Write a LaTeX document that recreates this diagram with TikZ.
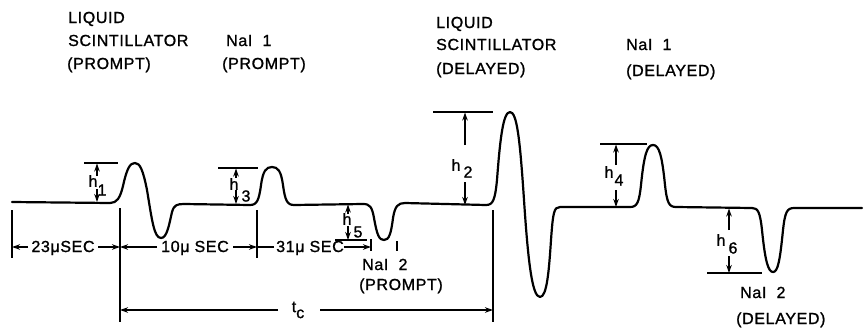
\documentclass[tikz,border=0pt]{standalone}
\usepackage{fontspec}
\setmainfont{Liberation Sans}
\newfontfamily\lbfont[LetterSpace=4,FakeBold=1.2]{Liberation Sans}
\usetikzlibrary{arrows.meta}
\begin{document}
\begin{tikzpicture}[x=1pt,y=-1pt,
  lbl/.style={font=\lbfont\fontsize{16}{19}\selectfont, inner sep=0pt, anchor=base west},
  dimtxt/.style={font=\lbfont\fontsize{16}{19}\selectfont, inner sep=0pt, anchor=base},
  hlab/.style={font=\lbfont\fontsize{16}{19}\selectfont, inner sep=0pt},
  pulse/.style={line width=2.2pt, line join=round, line cap=round},
  dim/.style={line width=1.2pt},
  tip/.style={-{Stealth[length=8pt,width=5.5pt]}},
]
\useasboundingbox (0,0) rectangle (867,327);

% ---- top labels
\node[lbl] (ls1a) at (68,23) {LIQUID};
\node[lbl] (ls1b) at (68,46) {SCINTILLATOR};
\node[lbl] (ls1c) at (67,69) {(PROMPT)};
\node[lbl] (na1a) at (226,46) {NaI\ \ 1};
\node[lbl] (na1b) at (222,69) {(PROMPT)};
\node[lbl] (ls2a) at (436,28) {LIQUID};
\node[lbl] (ls2b) at (436,50) {SCINTILLATOR};
\node[lbl] (ls2c) at (436,74) {(DELAYED)};
\node[lbl] (na2a) at (626,50) {NaI\ \ 1};
\node[lbl] (na2b) at (626,76) {(DELAYED)};
% ---- bottom labels
\node[lbl] (n2pa) at (362,270) {NaI\ \ 2};
\node[lbl] (n2pb) at (359,290) {(PROMPT)};
\node[lbl] (n2da) at (740,298) {NaI\ \ 2};
\node[lbl] (n2db) at (736,324) {(DELAYED)};

% ---- pulse train
\draw[pulse] (12,202) -- (110,203)
 .. controls (117,203) and (120,198) .. (123,186)
 .. controls (127,168) and (130,163) .. (135,163)
 .. controls (140,163) and (143,170) .. (147,190)
 .. controls (152,220) and (154,238) .. (161,238)
 .. controls (167,238) and (169,225) .. (172,212)
 .. controls (174,205) and (177,204) .. (184,204)
 -- (250,205)
 .. controls (257,205) and (259,200) .. (261,185)
 .. controls (263,171) and (266,167) .. (272,167)
 .. controls (278,167) and (281,171) .. (283,185)
 .. controls (285,200) and (287,205) .. (294,205)
 -- (363,204)
 .. controls (370,204) and (372,207) .. (374,218)
 .. controls (377,235) and (379,240) .. (384,240)
 .. controls (389,240) and (391,234) .. (393,218)
 .. controls (395,206) and (398,203) .. (405,203)
 -- (486,205)
 .. controls (493,205) and (495,200) .. (497,180)
 .. controls (500,140) and (503,112) .. (510,112)
 .. controls (517,112) and (520,140) .. (524,200)
 .. controls (528,260) and (532,297) .. (540,297)
 .. controls (547,297) and (549,270) .. (551,240)
 .. controls (553,212) and (554,207) .. (560,207)
 -- (630,207)
 .. controls (637,207) and (639,203) .. (641,185)
 .. controls (644,155) and (647,145) .. (653,145)
 .. controls (659,145) and (662,155) .. (665,185)
 .. controls (667,203) and (669,207) .. (676,207)
 -- (752,208)
 .. controls (758,208) and (760,212) .. (762,230)
 .. controls (765,260) and (768,272) .. (773,272)
 .. controls (778,272) and (780,260) .. (783,230)
 .. controls (785,212) and (787,208) .. (794,208)
 -- (862,208);

% ---- extension lines
\coordinate (e0t) at (12,210);  \coordinate (e0b) at (12,258);
\coordinate (e1t) at (120,208); \coordinate (e1b) at (120,322);
\coordinate (e2t) at (257,210); \coordinate (e2b) at (257,258);
\coordinate (e3t) at (371,239); \coordinate (e3b) at (371,251);
\coordinate (e4t) at (493,210); \coordinate (e4b) at (493,322);
\coordinate (k1t) at (397,241); \coordinate (k1b) at (397,251);
\foreach \a/\b in {e0t/e0b,e1t/e1b,e2t/e2b,e3t/e3b,e4t/e4b,k1t/k1b}
  \draw[dim] (\a) -- (\b);

% ---- time intervals
\node[dimtxt] (d23) at (63,252) {23μSEC};
\node[dimtxt] (d10) at (195,252) {10μ SEC};
\node[dimtxt] (d31) at (310,252) {31μ SEC};
\coordinate (a23l) at (28,247);  \coordinate (a23r) at (98,247);
\coordinate (a10l) at (157,247); \coordinate (a10r) at (233,247);
\coordinate (a31l) at (274,247); \coordinate (a31r) at (344,247);
\draw[dim,tip] (a23l) -- (e0t |- a23l);
\draw[dim,tip] (a23r) -- (e1t |- a23r);
\draw[dim,tip] (a10l) -- (e1t |- a10l);
\draw[dim,tip] (a10r) -- (e2t |- a10r);
\draw[dim] (a31l) -- (e2t |- a31l);
\draw[dim,tip] (a31r) -- (e3t |- a31r);

% ---- t_c
\node[hlab] (tc) at (298,310) {t\raisebox{-6pt}{c}};
\coordinate (tcl) at (278,310); \coordinate (tcr) at (320,310);
\draw[dim,tip] (tcl) -- (e1t |- tcl);
\draw[dim,tip] (tcr) -- (e4t |- tcr);

% ---- heights
% h1
\coordinate (h1a) at (84,163); \coordinate (h1b) at (118,163);
\draw[dim] (h1a) -- (h1b);
\draw[dim,tip] (97,176) -- (97,163.5);
\draw[dim,tip] (97,189) -- (97,202);
\node[hlab] (h1h) at (93,181) {h};
\node[hlab] (h1n) at (102,190) {1};
% h3
\draw[dim] (218,168) -- (258,168);
\draw[dim,tip] (236,178) -- (236,168.5);
\draw[dim,tip] (236,190) -- (236,204);
\node[hlab] (h3h) at (234,184) {h};
\node[hlab] (h3n) at (246,196) {3};
% h5
\draw[dim] (335,240) -- (367,240);
\draw[dim,tip] (348,214) -- (348,204.5);
\draw[dim,tip] (348,226) -- (348,240);
\node[hlab] (h5h) at (347,219) {h};
\node[hlab] (h5n) at (358,232) {5};
% h2
\draw[dim] (433,112) -- (493,112);
\draw[dim,tip] (465,145) -- (465,112.5);
\draw[dim,tip] (465,182) -- (465,205);
\node[hlab] (h2h) at (456,165) {h};
\node[hlab] (h2n) at (468,172) {2};
% h4
\draw[dim] (600,144) -- (647,144);
\draw[dim,tip] (616,165) -- (616,144.5);
\draw[dim,tip] (616,190) -- (616,207);
\node[hlab] (h4h) at (609,172) {h};
\node[hlab] (h4n) at (619,180) {4};
% h6
\draw[dim] (707,273) -- (762,273);
\draw[dim,tip] (729,230) -- (729,208.5);
\draw[dim,tip] (729,256) -- (729,273);
\node[hlab] (h6h) at (721,240) {h};
\node[hlab] (h6n) at (733,248) {6};
\end{tikzpicture}
\end{document}
